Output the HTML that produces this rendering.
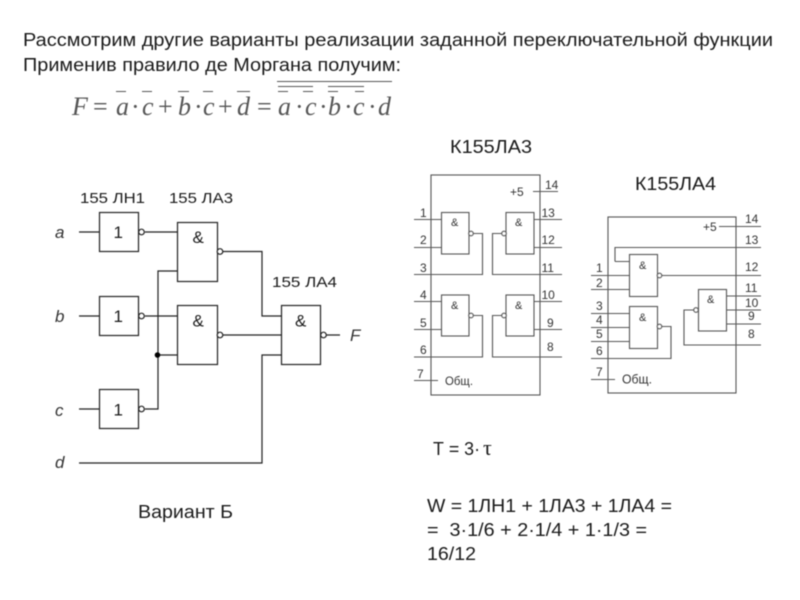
<!DOCTYPE html>
<html><head><meta charset="utf-8"><style>
html,body{margin:0;padding:0;background:#fff}
svg{display:block;filter:blur(.45px)}
text{font-family:"Liberation Sans",sans-serif;fill:#1a1a1a}
.l{fill:none;stroke:#222;stroke-width:1.2}
.m{fill:none;stroke:#555;stroke-width:1.1}
.b{fill:#fff;stroke:#222;stroke-width:1.2}
.g{fill:#fff;stroke:#555;stroke-width:1.1}
.n{font-size:12px;fill:#333}
.n text{fill:#333}
.s{font-size:15px}
.i{font-style:italic;font-size:17px;fill:#333}
.e{font-family:"Liberation Serif",serif;font-size:26px;fill:#555}
.e2{font-family:"Liberation Serif",serif;font-style:italic;font-size:26px;fill:#555}
.big{font-size:18px}
</style></head><body>
<svg xmlns="http://www.w3.org/2000/svg" width="800" height="600" viewBox="0 0 800 600">
<rect width="800" height="600" fill="#fff"/>
<text class="big" x="23" y="46" textLength="750" lengthAdjust="spacingAndGlyphs">Рассмотрим другие варианты реализации заданной переключательной функции</text>
<text class="big" x="23" y="71" textLength="378" lengthAdjust="spacingAndGlyphs">Применив правило де Моргана получим:</text>

<!-- formula -->
<g>
<text class="e2" x="72" y="115">F</text><text class="e" x="93" y="115">=</text>
<text class="e2" x="116" y="115">a</text><text class="e" x="131" y="115">·</text><text class="e2" x="142" y="115">c</text>
<text class="e" x="158" y="115">+</text><text class="e2" x="178" y="115">b</text><text class="e" x="194" y="115">·</text><text class="e2" x="203" y="115">c</text>
<text class="e" x="218" y="115">+</text><text class="e2" x="237" y="115">d</text><text class="e" x="257" y="115">=</text>
<text class="e2" x="278" y="115">a</text><text class="e" x="295" y="115">·</text><text class="e2" x="305" y="115">c</text><text class="e" x="319" y="115">·</text>
<text class="e2" x="328" y="115">b</text><text class="e" x="344" y="115">·</text><text class="e2" x="353" y="115">c</text><text class="e" x="368" y="115">·</text><text class="e2" x="378" y="115">d</text>
<path class="m" d="M116 91.500h10M142 91.500h10M178 91.500h11M203 91.500h10M237 91.500h13M278 91.500h10M303 91.500h10M328 91.500h10M355 91.500h9M278 86.500h35M328 86.500h36"/>
<path class="m" d="M277 81.500h115"/>
</g>

<!-- variant B logic -->
<g>
<text class="s" x="80" y="203" textLength="65" lengthAdjust="spacingAndGlyphs">155 ЛН1</text>
<text class="s" x="169" y="203" textLength="64" lengthAdjust="spacingAndGlyphs">155 ЛА3</text>
<text class="s" x="272" y="287" textLength="65" lengthAdjust="spacingAndGlyphs">155 ЛА4</text>
<text class="i" x="55" y="238">a</text><text class="i" x="55" y="322">b</text><text class="i" x="55" y="416">c</text><text class="i" x="55" y="468">d</text><text class="i" x="350" y="341">F</text>
<path class="l" d="M79 232h20M79 316h20M79 409h20M79 463h183V355h19M145 232h32M145 316h32M145 409h13V271h19M158 355h19M220 251.500h42V316h19M220 335h61M323 335h17"/>
<rect class="b" x="99.500" y="212.500" width="39" height="39"/><rect class="b" x="99.500" y="296.500" width="39" height="39"/><rect class="b" x="99.500" y="389.500" width="39" height="39"/>
<rect class="b" x="177.500" y="222.500" width="40" height="59"/><rect class="b" x="177.500" y="305.500" width="40" height="59"/><rect class="b" x="281.500" y="305.500" width="39" height="59"/>
<g font-size="17"><text x="113.500" y="238">1</text><text x="113.500" y="322">1</text><text x="113.500" y="415.500">1</text>
<text x="192.500" y="243">&amp;</text><text x="192.500" y="326.500">&amp;</text><text x="295" y="326.500">&amp;</text></g>
<g class="b"><circle cx="141.500" cy="232" r="2.800"/><circle cx="141.500" cy="316" r="2.800"/><circle cx="141.500" cy="409" r="2.800"/><circle cx="220" cy="251.500" r="2.800"/><circle cx="220" cy="335" r="2.800"/><circle cx="323.500" cy="335" r="2.800"/></g>
<circle cx="157.500" cy="355" r="2.800" fill="#000"/>
<text class="big" x="138" y="518" textLength="95" lengthAdjust="spacingAndGlyphs">Вариант Б</text>
</g>

<!-- K155LA3 -->
<text class="big" x="450" y="153" textLength="82" lengthAdjust="spacingAndGlyphs">К155ЛА3</text>
<rect class="m" x="431" y="175" width="109" height="220"/>
<g>
<path class="m" d="M414 219.500h27M414 247.500h27M469 233.500h13.500V274.500H414M414 301.500h27M414 329.500h27M469 315.500h13.500V357H414M414 380.500h24M533 191.500h25M534 219.500h28M534 247.500h28M506 233.500h-13.500V274.500H562M534 301.500h28M534 329.500h28M506 315.500h-13.500V357H562"/>
<rect class="g" x="441.500" y="212.500" width="27.500" height="41.500"/><rect class="g" x="441.500" y="295" width="27.500" height="41"/>
<rect class="g" x="506" y="212.500" width="28" height="41.500"/><rect class="g" x="506" y="295" width="28" height="41"/>
<g class="g"><circle cx="471" cy="233.500" r="2.300"/><circle cx="471" cy="315.500" r="2.300"/><circle cx="504" cy="233.500" r="2.300"/><circle cx="504" cy="315.500" r="2.300"/></g>
<g class="n"><text x="420" y="217">1</text><text x="420" y="244">2</text><text x="420" y="272">3</text><text x="420" y="299">4</text><text x="420" y="327">5</text><text x="420" y="354">6</text><text x="417" y="378">7</text>
<text x="545" y="189">14</text><text x="541.500" y="217">13</text><text x="541.500" y="244">12</text><text x="541.500" y="272">11</text><text x="541.500" y="299">10</text><text x="547" y="327">9</text><text x="547" y="351">8</text>
<text x="510" y="196">+5</text><text x="445" y="385" style="font-size:12px" textLength="28" lengthAdjust="spacingAndGlyphs">Общ.</text>
<text x="451" y="226" style="font-size:11px">&amp;</text><text x="451" y="309" style="font-size:11px">&amp;</text><text x="515" y="226" style="font-size:11px">&amp;</text><text x="515" y="309" style="font-size:11px">&amp;</text></g>
</g>

<!-- K155LA4 -->
<text class="big" x="635" y="190" textLength="81" lengthAdjust="spacingAndGlyphs">К155ЛА4</text>
<rect class="m" x="608" y="217" width="128" height="176"/>
<g>
<path class="m" d="M719 226.500h42M615 261.500V247.500H761M615 261.500h15M591 275.500h39M591 289.500h39M658 275.500h103M591 313.500h39M591 327.500h39M591 341.500h39M658 326.500h13V358.500H591M591 379.500h24M726 296h35M726 310h35M726 324h35M698 310h-14V345h77"/>
<rect class="g" x="629.500" y="254.500" width="28" height="42"/><rect class="g" x="629.500" y="306.500" width="28" height="42"/><rect class="g" x="698.500" y="289.500" width="28" height="41.500"/>
<g class="g"><circle cx="659.500" cy="275.500" r="2.300"/><circle cx="659.500" cy="326.500" r="2.300"/><circle cx="696" cy="310" r="2.300"/></g>
<g class="n"><text x="596" y="272">1</text><text x="596" y="287">2</text><text x="596" y="310">3</text><text x="596" y="324">4</text><text x="596" y="338">5</text><text x="596" y="355">6</text><text x="596" y="376">7</text>
<text x="745" y="223">14</text><text x="745" y="244">13</text><text x="745" y="271">12</text><text x="745" y="292">11</text><text x="745" y="307">10</text><text x="748" y="320">9</text><text x="748" y="338">8</text>
<text x="703" y="231">+5</text><text x="622" y="383.500" style="font-size:12.500px" textLength="30" lengthAdjust="spacingAndGlyphs">Общ.</text>
<text x="639" y="269" style="font-size:11px">&amp;</text><text x="639" y="321" style="font-size:11px">&amp;</text><text x="707" y="303" style="font-size:11px">&amp;</text></g>
</g>

<text class="big" x="433" y="455" textLength="47" lengthAdjust="spacingAndGlyphs">Т = 3·</text><text x="483" y="455" style="font-family:'Liberation Serif',serif;font-size:22px">τ</text>
<g>
<text class="big" x="427" y="512" textLength="245" lengthAdjust="spacingAndGlyphs">W = 1ЛН1 + 1ЛА3 + 1ЛА4 =</text>
<text class="big" x="427" y="536" textLength="220" lengthAdjust="spacingAndGlyphs">=&#160;&#160;3·1/6 + 2·1/4 + 1·1/3 =</text>
<text class="big" x="427" y="560" textLength="49" lengthAdjust="spacingAndGlyphs">16/12</text>
</g>
</svg>
</body></html>
